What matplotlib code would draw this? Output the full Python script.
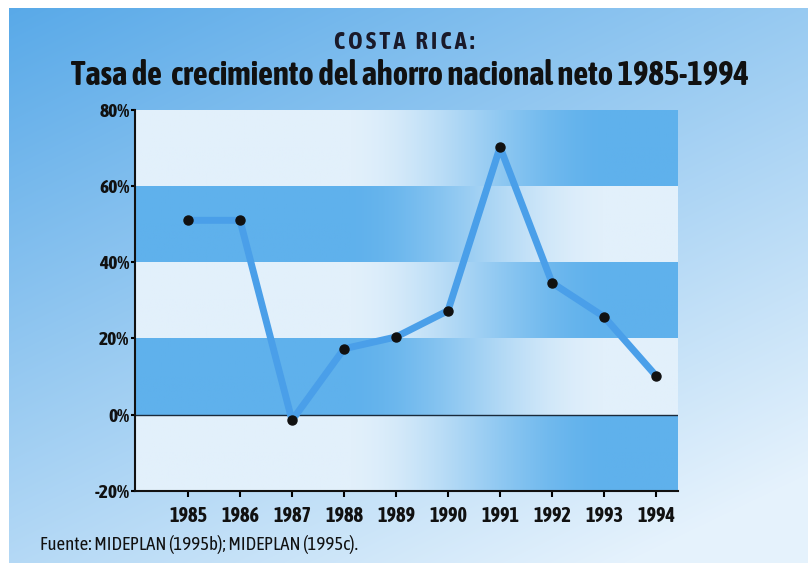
import numpy as np
import matplotlib
matplotlib.use('Agg')
import matplotlib.pyplot as plt
from matplotlib.colors import LinearSegmentedColormap

# 数据
years = [1985, 1986, 1987, 1988, 1989, 1990, 1991, 1992, 1993, 1994]
tasa = [51, 51, -1.5, 17.3, 20.4, 27.3, 70.2, 34.6, 25.7, 10.2]
yticks = [-20, 0, 20, 40, 60, 80]
ytick_labels = ['-20%', '0%', '20%', '40%', '60%', '80%']

# 窄体字（接近原图的 Myriad Condensed）
FONT = ['Asap Condensed', 'Barlow Condensed', 'DejaVu Sans']
plt.rcParams['font.family'] = FONT

BLUE = '#5fb1ec'
LIGHT = '#e2f0fb'
LINE = '#4a9fe9'

fig = plt.figure(figsize=(8.08, 5.63), dpi=100)

# 背景渐变
bg = fig.add_axes([0, 0, 1, 1], zorder=-10)
bg.set_axis_off()
h, w = 563, 808
yy, xx = np.mgrid[0:h, 0:w]
t = np.clip(0.45 * xx / w + 0.65 * yy / h, 0, 1)
c0 = np.array([0.34, 0.66, 0.91])
c1 = np.array([0.90, 0.95, 0.99])
img = c0 * (1 - t[..., None]) + c1 * t[..., None]
img[:8, :] = 1.0
img[:, :9] = 1.0
bg.imshow(img, extent=[0, 1, 0, 1], aspect='auto', origin='upper')
bg.set_xlim(0, 1)
bg.set_ylim(0, 1)

ax = fig.add_axes([0.167, 0.128, 0.672, 0.677])
ax.set_xlim(1983.98, 1994.42)
ax.set_ylim(-20, 80)

# 条纹背景（水平渐变，交替方向）
g = np.linspace(0, 1, 300)
s = np.clip((g - 0.38) / 0.5, 0, 1)
s = s * s * (3 - 2 * s)
cmap = LinearSegmentedColormap.from_list('band', [LIGHT, BLUE])
for i, lo in enumerate(range(-20, 80, 20)):
    vals = s if i % 2 == 0 else 1 - s
    ax.imshow(vals[None, :], cmap=cmap, vmin=0, vmax=1, aspect='auto',
              extent=[1983.98, 1994.42, lo, lo + 20], zorder=0)

ax.axhline(0, color='#1a2a3a', lw=1.0, zorder=1)
ax.plot(years, tasa, color=LINE, lw=5, zorder=2, solid_capstyle='round')
ax.plot(years, tasa, 'o', color='#111111', ms=6.5, zorder=3)

for sp in ['top', 'right']:
    ax.spines[sp].set_visible(False)
ax.spines['left'].set_linewidth(1.5)
ax.spines['bottom'].set_linewidth(1.5)
ax.spines['left'].set_color('#111111')
ax.spines['bottom'].set_color('#111111')

ax.set_xticks(years)
ax.set_xticklabels([str(y) for y in years], fontsize=14.5, fontweight='bold', color='#111111')
ax.set_yticks(yticks)
ax.set_yticklabels(ytick_labels, fontsize=14, fontweight='bold', color='#111111')
ax.tick_params(axis='x', length=4, width=1.5, pad=7)
ax.tick_params(axis='y', length=3, width=1.5, pad=1)

fig.text(0.5, 0.925, 'C O S T A   R I C A :', ha='center', va='center',
         fontsize=17.5, fontweight='bold', color='#1a1a2a')
fig.text(0.508, 0.866, 'Tasa de  crecimiento del ahorro nacional neto 1985-1994',
         ha='center', va='center', fontsize=23.5, fontweight='bold', color='#111111')
fig.text(0.049, 0.032, 'Fuente: MIDEPLAN (1995b); MIDEPLAN (1995c).',
         ha='left', va='center', fontsize=13.5, color='#111111')

fig.savefig('out.png', dpi=100)
